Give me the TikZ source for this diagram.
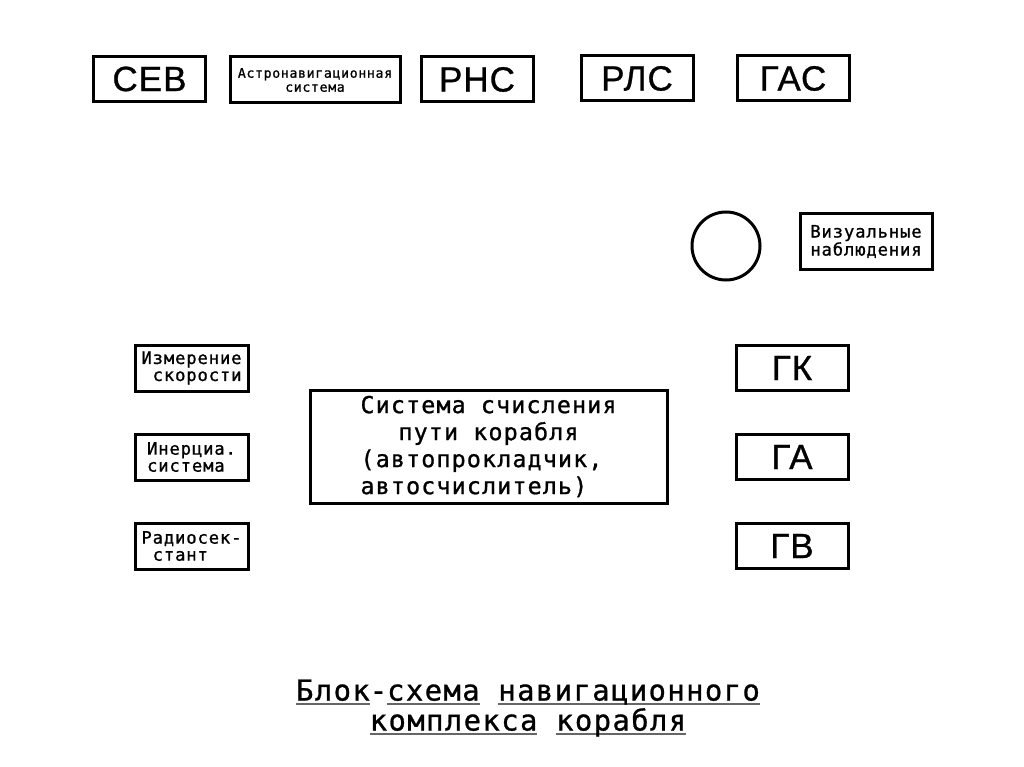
\documentclass[tikz,border=0pt]{standalone}
\usepackage{fontspec}
\setmainfont{Liberation Sans}
\newfontfamily\bigsans[LetterSpace=3,FakeBold=0.8]{Liberation Sans}
\newfontfamily\mono[LetterSpace=5.0,FakeBold=1.0]{DejaVu Sans Mono}
\newcommand\myul[1]{\setbox0\hbox{#1}\rlap{\color{black!60}\rule[-4pt]{\wd0}{1.8pt}}\box0\relax}
\begin{document}
\begin{tikzpicture}[x=1pt,y=-1pt,
  box/.style={draw, line width=3pt, inner sep=0pt, align=center},
  bigbox/.style={box, minimum width=112pt, minimum height=45pt,
    font=\bigsans\fontsize{35}{36}\selectfont},
  sidebox/.style={box, minimum width=113pt, minimum height=46pt, align=left,
    font=\mono\fontsize{17.2}{17}\selectfont}]
\useasboundingbox[fill=white] (0,0) rectangle (1024,767);
% top row
\node[bigbox] (sev) at (149.5,79) {СЕВ};
\node[box, minimum width=170pt, minimum height=46pt,
  font=\mono\fontsize{13.2}{14}\selectfont] (astro) at (315,80) {Астронавигационная\\система};
\node[bigbox] (rns) at (477,79.5) {РНС};
\node[bigbox] (rls) at (637,78.5) {РЛС};
\node[bigbox] (gas) at (793,78.5) {ГАС};
% circle and visual
\node[draw, circle, line width=3pt, minimum size=68pt, inner sep=0pt] (circ) at (726,246) {};
\node[box, minimum width=132pt, minimum height=55pt,
  font=\mono\fontsize{17.2}{18}\selectfont] (vis) at (866,241.5) {Визуальные\\наблюдения};
% left column
\node[sidebox] (izm) at (191.5,368) {Измерение\\\hspace*{0.652em}скорости};
\node[sidebox] (iner) at (191.5,457) {Инерциа.\\система};
\node[sidebox] (radio) at (191.5,546) {Радиосек-\\\hspace*{0.652em}стант};
% right column
\node[bigbox] (gk) at (792,368) {ГК};
\node[bigbox] (ga) at (792,457) {ГА};
\node[bigbox] (gv) at (792,546) {ГВ};
% central
\node[box, minimum width=357pt, minimum height=113pt, align=left,
  font=\mono\fontsize{23.3}{27}\selectfont] (calc) at (488.5,446.5)
  {Система счисления\\\hspace*{1.63em}пути корабля\\(автопрокладчик,\\автосчислитель)};
% caption
\node[font=\mono\fontsize{28.8}{30}\selectfont, align=center, inner sep=0pt] (cap) at (528,708)
  {\myul{Блок}-\myul{схема} \myul{навигационного}\\\myul{комплекса} \myul{корабля}};
\end{tikzpicture}
\end{document}
